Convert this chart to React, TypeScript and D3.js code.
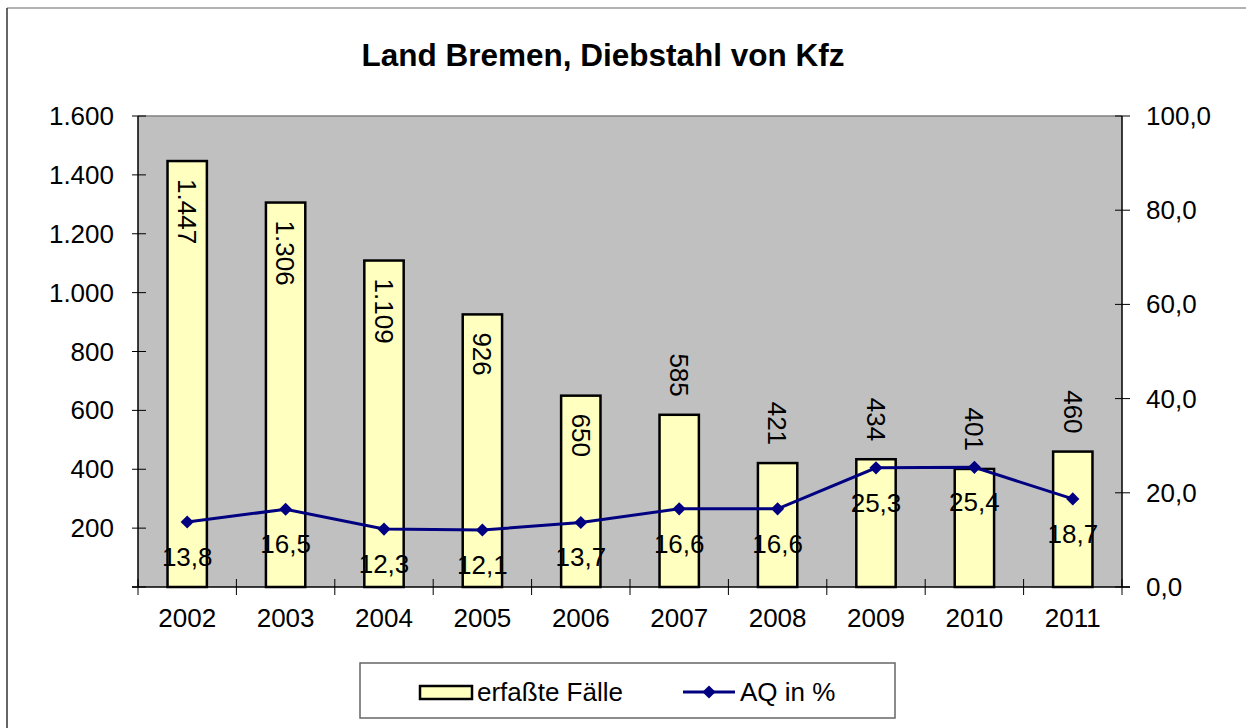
import React from 'react';
import * as d3 from 'd3';

const years = ['2002', '2003', '2004', '2005', '2006', '2007', '2008', '2009', '2010', '2011'];
const cases = [1447, 1306, 1109, 926, 650, 585, 421, 434, 401, 460];
const aq = [13.8, 16.5, 12.3, 12.1, 13.7, 16.6, 16.6, 25.3, 25.4, 18.7];
const leftTicks = [0, 200, 400, 600, 800, 1000, 1200, 1400, 1600];
const rightTicks = [0, 20, 40, 60, 80, 100];

const W = 1246, H = 728;
const m = { left: 138, right: 1122, top: 116, bottom: 587 };
const font = 'Arial, "Liberation Sans", sans-serif';
const fs = 26;

const fmtInt = (v: number) => d3.format(',')(v).replace(/,/g, '.');
const fmtDec = (v: number) => v.toFixed(1).replace('.', ',');

export default function App() {
  const x = d3.scaleBand().domain(years).range([m.left, m.right]).paddingInner(0.6).paddingOuter(0.3);
  const xb = d3.scaleBand().domain(years).range([m.left, m.right]);
  const yL = d3.scaleLinear().domain([0, 1600]).range([m.bottom, m.top]);
  const yR = d3.scaleLinear().domain([0, 100]).range([m.bottom, m.top]);
  const cx = (yr: string) => xb(yr)! + xb.bandwidth() / 2;
  const lineGen = d3.line<number>().x((_, i) => cx(years[i])).y(d => yR(d));
  const diamond = d3.symbol().type(d3.symbolDiamond2).size(110)();

  return (
    <svg width={W} height={H} style={{ position: 'absolute', left: 0, top: 0 }} fontFamily={font}>
      <rect x={0} y={0} width={W} height={H} fill="#fff" />
      <line x1={7} y1={8} x2={W} y2={8} stroke="#999" strokeWidth={1.5} />
      <line x1={7} y1={8} x2={7} y2={H} stroke="#333" strokeWidth={1.5} />

      <text x={603} y={66} textAnchor="middle" fontSize={31.5} fontWeight="bold">Land Bremen, Diebstahl von Kfz</text>

      <rect x={m.left} y={m.top} width={m.right - m.left} height={m.bottom - m.top} fill="#c0c0c0" />
      <line x1={m.left} y1={m.top} x2={m.right} y2={m.top} stroke="#808080" strokeWidth={1.5} />

      {years.map((yr, i) => (
        <rect key={yr} x={x(yr)} y={yL(cases[i])} width={x.bandwidth()} height={m.bottom - yL(cases[i])}
          fill="#ffffc0" stroke="#000" strokeWidth={2.5} />
      ))}

      {/* axes */}
      <line x1={m.left} y1={m.top} x2={m.left} y2={m.bottom} stroke="#000" strokeWidth={1.5} />
      <line x1={m.right} y1={m.top} x2={m.right} y2={m.bottom} stroke="#000" strokeWidth={1.5} />
      <line x1={m.left - 6} y1={m.bottom} x2={m.right + 8} y2={m.bottom} stroke="#000" strokeWidth={1.5} />
      {leftTicks.map(t => (
        <g key={t}>
          <line x1={m.left - 6} x2={m.left + 8} y1={yL(t)} y2={yL(t)} stroke="#000" />
          {t > 0 && <text x={114} y={yL(t) + 9} textAnchor="end" fontSize={fs}>{fmtInt(t)}</text>}
        </g>
      ))}
      {rightTicks.map(t => (
        <g key={t}>
          <line x1={m.right - 7} x2={m.right + 8} y1={yR(t)} y2={yR(t)} stroke="#000" />
          <text x={1146} y={yR(t) + 9} fontSize={fs}>{fmtDec(t)}</text>
        </g>
      ))}
      {years.concat(['end']).map((yr, i) => {
        const tx = m.left + i * xb.bandwidth();
        return <line key={yr} x1={tx} x2={tx} y1={m.bottom - 8} y2={m.bottom + 8} stroke="#000" />;
      })}
      {years.map(yr => (
        <text key={yr} x={cx(yr)} y={627} textAnchor="middle" fontSize={fs}>{yr}</text>
      ))}

      {/* bar labels, rotated */}
      {years.map((yr, i) => {
        const top = yL(cases[i]);
        const inside = cases[i] > 600;
        const tx = cx(yr);
        const ty = inside ? top + 18 : top - 18;
        return (
          <text key={yr} transform={`translate(${tx},${ty}) rotate(90)`} textAnchor={inside ? 'start' : 'end'}
            dy="0.35em" fontSize={fs}>{fmtInt(cases[i])}</text>
        );
      })}

      {/* line series */}
      <path d={lineGen(aq)!} fill="none" stroke="#000080" strokeWidth={3} />
      {aq.map((v, i) => (
        <path key={i} d={diamond!} transform={`translate(${cx(years[i])},${yR(v)})`} fill="#000080" />
      ))}
      {aq.map((v, i) => (
        <text key={i} x={cx(years[i])} y={yR(v) + 44} textAnchor="middle" fontSize={fs}>{fmtDec(v)}</text>
      ))}

      {/* legend */}
      <rect x={360} y={663} width={535} height={55} fill="#fff" stroke="#666" strokeWidth={1.5} />
      <rect x={420} y={686} width={52} height={13} fill="#ffffc0" stroke="#000" strokeWidth={2.5} />
      <text x={477} y={701} fontSize={fs}>erfaßte Fälle</text>
      <line x1={683} x2={735} y1={692} y2={692} stroke="#000080" strokeWidth={3} />
      <path d={diamond!} transform="translate(709,692)" fill="#000080" />
      <text x={740} y={701} fontSize={fs}>AQ in %</text>
    </svg>
  );
}
